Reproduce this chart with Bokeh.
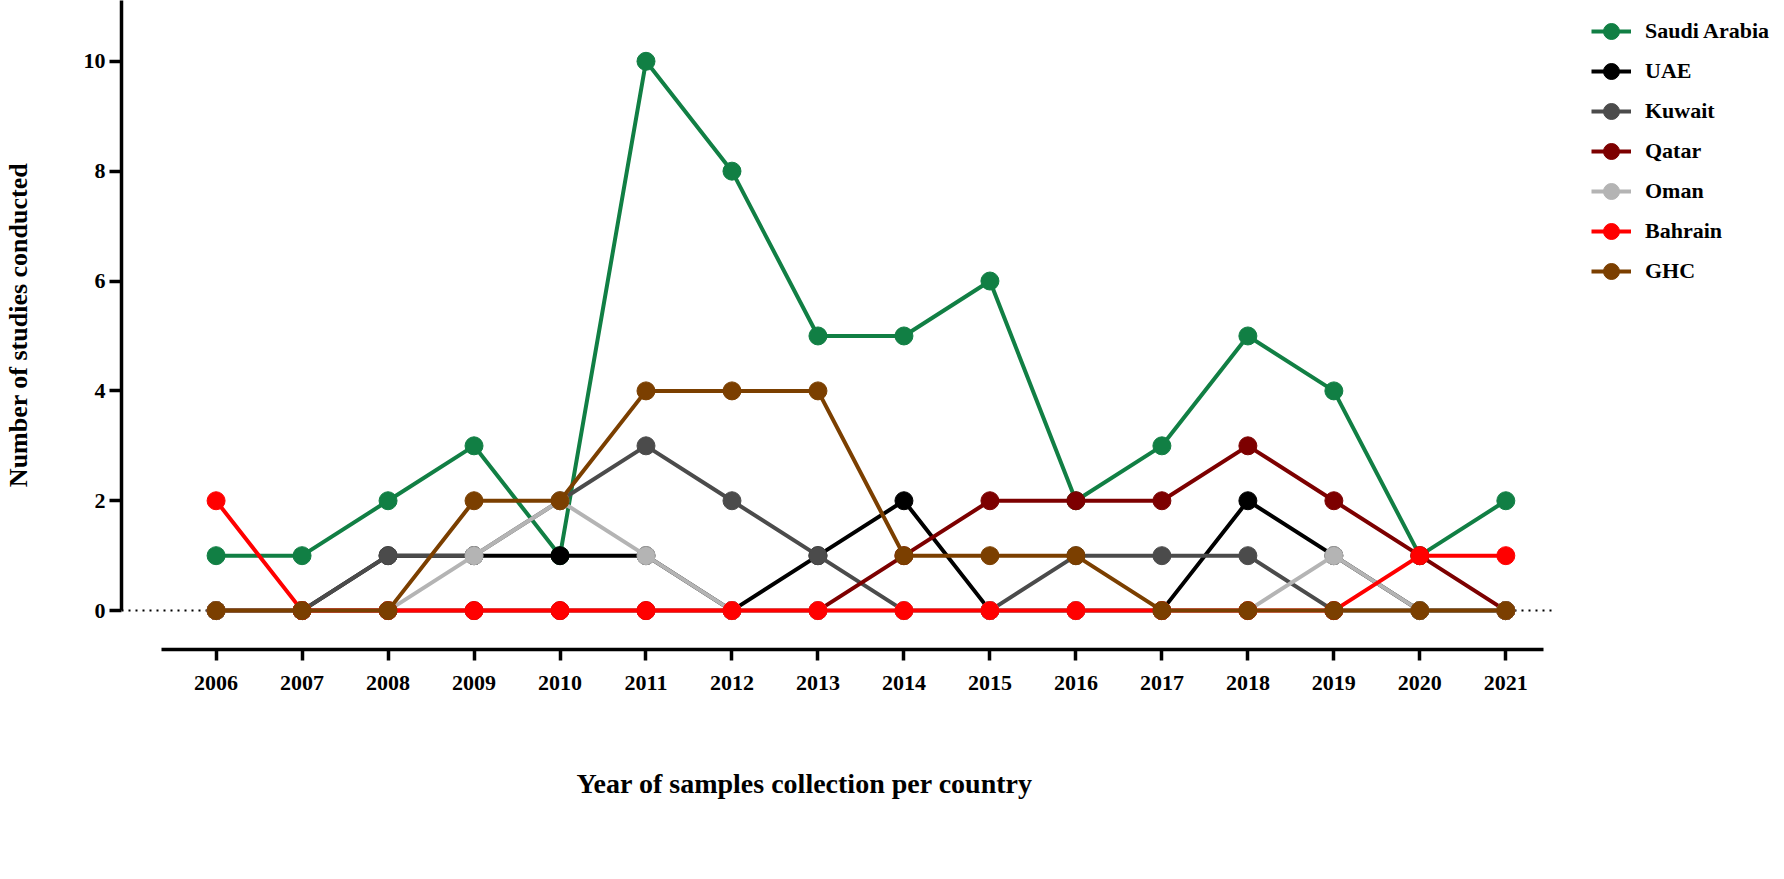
from bokeh.plotting import figure
from bokeh.models import (ColumnDataSource, Legend, LegendItem, FixedTicker, Title)
from bokeh.embed import file_html
from bokeh.resources import INLINE

years = list(range(2006, 2022))
countries = ["Saudi Arabia", "UAE", "Kuwait", "Qatar", "Oman", "Bahrain", "GHC"]
saudi   = [1, 1, 2, 3, 1, 10, 8, 5, 5, 6, 2, 3, 5, 4, 1, 2]
uae     = [0, 0, 1, 1, 1, 1, 0, 1, 2, 0, 0, 0, 2, 1, 0, 0]
kuwait  = [0, 0, 1, 1, 2, 3, 2, 1, 0, 0, 1, 1, 1, 0, 0, 0]
qatar   = [0, 0, 0, 0, 0, 0, 0, 0, 1, 2, 2, 2, 3, 2, 1, 0]
oman    = [0, 0, 0, 1, 2, 1, 0, 0, 0, 0, 0, 0, 0, 1, 0, 0]
bahrain = [2, 0, 0, 0, 0, 0, 0, 0, 0, 0, 0, 0, 0, 0, 1, 1]
ghc     = [0, 0, 0, 2, 2, 4, 4, 4, 1, 1, 1, 0, 0, 0, 0, 0]
series = [saudi, uae, kuwait, qatar, oman, bahrain, ghc]
colors = ["#117f44", "#000000", "#4b4b4b", "#7d0000", "#b4b4b4", "#ff0000", "#7b3f00"]
y_ticks = [0, 2, 4, 6, 8, 10]
x_title = "Year of samples collection per country"
y_title = "Number of studies conducted"

FONT = "Liberation Serif"
X_START, X_END = 2004.90, 2024.148

p = figure(width=1776, height=871, output_backend="svg", toolbar_location=None,
           x_range=(X_START, X_END), y_range=(-0.708, 11.107),
           min_border_left=112, min_border_right=0, min_border_top=0,
           min_border_bottom=220)
p.outline_line_color = None
p.grid.visible = False
p.background_fill_color = "white"

# zero dotted reference line (ends a little after the last year)
p.segment(x0=[X_START], y0=[0], x1=[years[-1] + 0.58], y1=[0],
          line_color="black", line_width=2, line_dash="2 5")

items = []
for name, vals, col in zip(countries, series, colors):
    src = ColumnDataSource(dict(x=years, y=vals))
    ln = p.line("x", "y", source=src, line_color=col, line_width=4)
    sc = p.scatter("x", "y", source=src, size=18, fill_color=col,
                   line_color=col, line_width=1)
    items.append(LegendItem(label=name, renderers=[ln, sc]))

# axes
xa = p.xaxis[0]
xa.ticker = FixedTicker(ticks=years)
xa.bounds = (2005.36, 2021.44)
xa.axis_line_width = 3.5
xa.major_tick_line_width = 3.5
xa.major_tick_out = 11
xa.major_tick_in = 0
xa.minor_tick_out = 0
xa.minor_tick_in = 0
xa.major_label_standoff = 15
xa.major_label_text_font = FONT
xa.major_label_text_font_style = "bold"
xa.major_label_text_font_size = "22px"
xa.major_label_text_color = "black"

ya = p.yaxis[0]
ya.ticker = FixedTicker(ticks=y_ticks)
ya.bounds = (0, 11.107)
ya.axis_line_width = 3.5
ya.major_tick_line_width = 3.5
ya.major_tick_out = 12
ya.major_tick_in = 0
ya.minor_tick_out = 0
ya.minor_tick_in = 0
ya.major_label_standoff = 4
ya.major_label_text_font = FONT
ya.major_label_text_font_style = "bold"
ya.major_label_text_font_size = "22px"
ya.major_label_text_color = "black"
ya.axis_label = y_title
ya.axis_label_text_font = FONT
ya.axis_label_text_font_style = "bold"
ya.axis_label_text_font_size = "26px"
ya.axis_label_text_color = "black"
ya.axis_label_standoff = 48

# x axis title, placed under the plotted years
xt = Title(text=x_title, align="left", offset=455, standoff=146,
           text_font=FONT, text_font_style="bold", text_font_size="28px",
           text_color="black")
p.add_layout(xt, "below")

legend = Legend(items=items, location=(1470, 358), glyph_width=40, glyph_height=40,
                label_height=40, spacing=0, padding=0, margin=0,
                border_line_alpha=0, background_fill_alpha=0,
                label_text_font=FONT, label_text_font_style="bold",
                label_text_font_size="22px", label_text_color="black",
                label_standoff=14)
p.add_layout(legend, "center")

open("out.html", "w").write(file_html(p, INLINE))
